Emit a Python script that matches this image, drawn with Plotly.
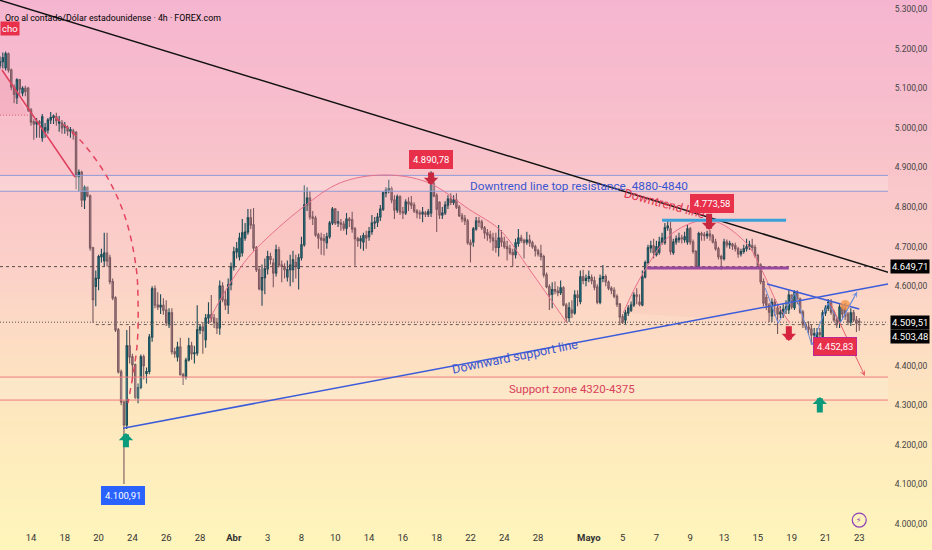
import plotly.graph_objects as go

# precios de las velas
opens = [
    5157, 5167, 5152, 5187, 5146, 5103, 5076, 5121, 5088, 5100,
    5100, 5045, 5015, 5010, 5015, 4975, 4990, 4995, 5020, 5026,
    5028, 5012, 5012, 5002, 5000, 4992, 4992, 4988, 4877, 4888,
    4818, 4850, 4828, 4697, 4600, 4620, 4675, 4665, 4684, 4672,
    4612, 4571, 4490, 4384, 4308, 4250, 4450, 4422, 4402, 4318,
    4345, 4422, 4380, 4385, 4472, 4594, 4553, 4548, 4552, 4540,
    4503, 4533, 4435, 4422, 4447, 4377, 4372, 4414, 4450, 4430,
    4432, 4490, 4497, 4465, 4520, 4528, 4520, 4508, 4495, 4601,
    4566, 4553, 4604, 4649, 4687, 4675, 4685, 4722, 4737, 4773,
    4755, 4697, 4642, 4591, 4622, 4644, 4675, 4659, 4634, 4692,
    4654, 4650, 4624, 4642, 4642, 4660, 4645, 4672, 4705, 4806,
    4823, 4775, 4772, 4730, 4722, 4720, 4710, 4725, 4760, 4795,
    4760, 4760, 4757, 4747, 4770, 4768, 4745, 4720, 4715, 4712,
    4728, 4725, 4738, 4760, 4762, 4775, 4795, 4836, 4843, 4847,
    4818, 4793, 4826, 4788, 4785, 4813, 4810, 4805, 4790, 4785,
    4783, 4785, 4782, 4785, 4860, 4830, 4812, 4780, 4785, 4805,
    4820, 4812, 4818, 4800, 4778, 4772, 4765, 4710, 4712, 4745,
    4765, 4762, 4748, 4735, 4730, 4722, 4715, 4698, 4722, 4712,
    4700, 4695, 4685, 4680, 4708, 4722, 4716, 4712, 4717, 4710,
    4700, 4690, 4682, 4675, 4629, 4599, 4580, 4592, 4588, 4584,
    4596, 4553, 4521, 4540, 4533, 4578, 4562, 4624, 4615, 4620,
    4622, 4614, 4598, 4560, 4620, 4625, 4610, 4595, 4590, 4575,
    4555, 4523, 4515, 4533, 4540, 4553, 4578, 4560, 4553, 4624,
    4660, 4697, 4702, 4680, 4686, 4712, 4710, 4748, 4745, 4685,
    4712, 4718, 4722, 4718, 4712, 4745, 4712, 4688, 4650, 4733,
    4730, 4728, 4732, 4727, 4712, 4695, 4675, 4670, 4712, 4705,
    4706, 4702, 4695, 4682, 4688, 4695, 4700, 4702, 4698, 4678,
    4654, 4612, 4572, 4553, 4525, 4560, 4545, 4530, 4530, 4542,
    4541, 4578, 4546, 4585, 4568, 4535, 4503, 4497, 4492, 4477,
    4473, 4483, 4473, 4533, 4545, 4558, 4535, 4515, 4510, 4548,
    4545, 4530, 4510, 4533, 4515, 4512,
]
closes = [
    5167, 5177, 5187, 5146, 5103, 5085, 5121, 5098, 5100, 5092,
    5045, 5015, 5010, 5015, 5012, 5028, 5000, 5020, 5026, 5030,
    5018, 5015, 5000, 5006, 4992, 4995, 4985, 4877, 4888, 4818,
    4850, 4828, 4697, 4566, 4620, 4675, 4680, 4684, 4664, 4612,
    4571, 4490, 4384, 4308, 4250, 4450, 4422, 4402, 4320, 4344,
    4422, 4400, 4385, 4472, 4594, 4553, 4548, 4552, 4540, 4508,
    4533, 4435, 4430, 4447, 4377, 4372, 4414, 4450, 4430, 4432,
    4490, 4497, 4488, 4520, 4528, 4520, 4508, 4495, 4601, 4566,
    4553, 4604, 4649, 4687, 4695, 4722, 4735, 4737, 4773, 4755,
    4697, 4642, 4594, 4622, 4644, 4675, 4668, 4634, 4692, 4654,
    4650, 4642, 4642, 4654, 4667, 4650, 4672, 4705, 4806, 4823,
    4775, 4772, 4730, 4722, 4717, 4715, 4725, 4760, 4795, 4760,
    4763, 4757, 4747, 4770, 4766, 4745, 4720, 4715, 4720, 4728,
    4722, 4738, 4760, 4762, 4775, 4795, 4836, 4843, 4847, 4818,
    4793, 4826, 4788, 4785, 4813, 4808, 4805, 4790, 4785, 4783,
    4787, 4782, 4788, 4880, 4828, 4795, 4780, 4785, 4805, 4820,
    4812, 4818, 4800, 4778, 4770, 4765, 4710, 4705, 4745, 4765,
    4762, 4748, 4735, 4730, 4722, 4715, 4698, 4722, 4712, 4700,
    4695, 4685, 4680, 4710, 4722, 4716, 4710, 4717, 4710, 4700,
    4690, 4682, 4675, 4629, 4599, 4578, 4592, 4588, 4584, 4596,
    4553, 4521, 4546, 4533, 4578, 4572, 4624, 4615, 4620, 4625,
    4614, 4598, 4560, 4620, 4625, 4612, 4595, 4590, 4575, 4555,
    4523, 4510, 4533, 4545, 4553, 4578, 4575, 4555, 4624, 4660,
    4697, 4702, 4685, 4700, 4712, 4722, 4748, 4752, 4688, 4712,
    4720, 4722, 4720, 4725, 4745, 4712, 4688, 4650, 4733, 4730,
    4728, 4732, 4727, 4712, 4695, 4675, 4670, 4712, 4705, 4708,
    4702, 4695, 4682, 4688, 4695, 4700, 4705, 4698, 4678, 4654,
    4612, 4558, 4553, 4535, 4560, 4552, 4530, 4535, 4542, 4548,
    4578, 4548, 4585, 4568, 4535, 4503, 4497, 4492, 4477, 4480,
    4483, 4478, 4533, 4545, 4560, 4535, 4515, 4503, 4548, 4530,
    4525, 4510, 4533, 4515, 4507, 4509.51,
]
highs = [
    5180, 5190, 5193, 5190, 5150, 5110, 5125, 5123, 5105, 5106,
    5104, 5050, 5022, 5025, 5020, 5035, 5012, 5025, 5040, 5034,
    5038, 5030, 5020, 5015, 5006, 5002, 4998, 4992, 4895, 4892,
    4855, 4852, 4832, 4700, 4640, 4680, 4695, 4735, 4735, 4680,
    4620, 4575, 4495, 4390, 4312, 4490, 4500, 4430, 4405, 4355,
    4428, 4428, 4395, 4480, 4600, 4602, 4585, 4580, 4570, 4565,
    4545, 4545, 4445, 4460, 4470, 4382, 4420, 4470, 4460, 4450,
    4552, 4505, 4510, 4530, 4560, 4578, 4530, 4520, 4615, 4610,
    4590, 4620, 4660, 4700, 4712, 4735, 4770, 4760, 4795, 4795,
    4798, 4702, 4648, 4655, 4670, 4690, 4685, 4670, 4705, 4700,
    4665, 4658, 4665, 4680, 4690, 4680, 4682, 4725, 4855, 4850,
    4840, 4790, 4778, 4735, 4735, 4732, 4735, 4765, 4800, 4798,
    4790, 4770, 4765, 4785, 4775, 4788, 4750, 4725, 4728, 4735,
    4740, 4750, 4780, 4775, 4785, 4805, 4840, 4850, 4869, 4852,
    4830, 4832, 4830, 4800, 4820, 4825, 4828, 4812, 4795, 4792,
    4800, 4790, 4795, 4890.78, 4880, 4835, 4815, 4800, 4815, 4830,
    4835, 4830, 4835, 4805, 4785, 4780, 4770, 4718, 4750, 4775,
    4775, 4768, 4752, 4745, 4740, 4735, 4735, 4755, 4742, 4725,
    4715, 4705, 4695, 4720, 4745, 4730, 4720, 4738, 4730, 4715,
    4705, 4695, 4705, 4680, 4635, 4605, 4610, 4612, 4600, 4615,
    4600, 4558, 4560, 4565, 4590, 4590, 4640, 4642, 4630, 4640,
    4630, 4625, 4605, 4630, 4654, 4630, 4615, 4600, 4598, 4580,
    4558, 4530, 4540, 4552, 4562, 4585, 4595, 4580, 4640, 4665,
    4705, 4715, 4720, 4715, 4725, 4735, 4760, 4765, 4763, 4720,
    4728, 4735, 4730, 4738, 4755, 4750, 4718, 4692, 4738, 4738,
    4737, 4740, 4742, 4732, 4720, 4700, 4680, 4720, 4718, 4715,
    4710, 4710, 4700, 4695, 4705, 4720, 4715, 4720, 4705, 4682,
    4658, 4620, 4580, 4558, 4570, 4568, 4552, 4550, 4555, 4565,
    4590, 4580, 4590, 4590, 4572, 4540, 4510, 4512, 4505, 4495,
    4495, 4495, 4540, 4552, 4568, 4568, 4540, 4520, 4555, 4555,
    4560, 4535, 4545, 4540, 4525, 4520,
]
lows = [
    5150, 5150, 5145, 5140, 5095, 5062, 5060, 5085, 5080, 5080,
    5040, 5005, 4970, 4975, 4975, 4965, 4975, 4985, 5010, 5010,
    5005, 4990, 4985, 4985, 4980, 4975, 4970, 4845, 4840, 4800,
    4795, 4825, 4690, 4508, 4550, 4590, 4660, 4650, 4650, 4605,
    4565, 4485, 4380, 4300, 4100.91, 4240, 4405, 4360, 4315, 4305,
    4340, 4365, 4355, 4378, 4460, 4545, 4540, 4530, 4528, 4500,
    4495, 4428, 4420, 4410, 4375, 4351, 4365, 4410, 4415, 4405,
    4425, 4480, 4430, 4445, 4505, 4510, 4495, 4480, 4478, 4560,
    4540, 4530, 4590, 4640, 4670, 4665, 4675, 4715, 4730, 4745,
    4690, 4636, 4590, 4551, 4580, 4630, 4655, 4598, 4625, 4648,
    4610, 4620, 4612, 4600, 4610, 4620, 4592, 4665, 4700, 4790,
    4768, 4755, 4725, 4695, 4680, 4678, 4695, 4720, 4755, 4755,
    4750, 4740, 4740, 4730, 4750, 4735, 4652, 4700, 4695, 4690,
    4695, 4715, 4730, 4745, 4750, 4765, 4790, 4825, 4835, 4810,
    4770, 4785, 4780, 4770, 4780, 4790, 4795, 4785, 4772, 4770,
    4762, 4775, 4775, 4775, 4825, 4737, 4770, 4770, 4780, 4795,
    4805, 4805, 4795, 4775, 4762, 4755, 4705, 4660, 4700, 4740,
    4750, 4742, 4720, 4715, 4710, 4690, 4685, 4675, 4700, 4695,
    4665, 4680, 4650, 4670, 4700, 4710, 4670, 4705, 4700, 4695,
    4675, 4675, 4665, 4622, 4595, 4540, 4545, 4580, 4575, 4578,
    4550, 4510, 4510, 4520, 4528, 4550, 4555, 4605, 4600, 4610,
    4605, 4590, 4555, 4555, 4610, 4600, 4590, 4580, 4570, 4548,
    4505, 4505, 4505, 4525, 4535, 4548, 4555, 4550, 4550, 4620,
    4655, 4685, 4670, 4675, 4680, 4705, 4705, 4740, 4680, 4680,
    4705, 4710, 4708, 4710, 4705, 4705, 4682, 4645, 4645, 4715,
    4715, 4720, 4715, 4708, 4690, 4668, 4642, 4665, 4698, 4695,
    4692, 4688, 4672, 4675, 4682, 4688, 4692, 4690, 4672, 4648,
    4605, 4550, 4540, 4510, 4510, 4525, 4480, 4520, 4520, 4530,
    4530, 4542, 4540, 4555, 4530, 4495, 4490, 4480, 4452.83, 4470,
    4465, 4470, 4468, 4525, 4538, 4528, 4510, 4495, 4495, 4520,
    4515, 4505, 4500, 4510, 4485, 4488,
]
candle_x = list(range(len(closes)))

x_tick_vals = [11, 23, 35, 47, 59, 71, 83, 95, 107, 119, 131, 143, 155,
               167, 179, 191, 209, 221, 233, 245, 257, 269, 281, 293, 305]
x_tick_text = ["14", "18", "20", "24", "26", "28", "<b>Abr</b>", "3", "8", "10", "14",
               "16", "18", "22", "24", "28", "<b>Mayo</b>", "5", "7", "9", "13",
               "15", "19", "21", "23"]
y_tick_vals = [4000, 4100, 4200, 4300, 4400, 4500, 4600, 4700, 4800, 4900,
               5000, 5100, 5200, 5300]

x_end = 315.2
y_range = [3985, 5322.7]

# dibujos sobre el grafico (indice de vela, precio)
black_x = [0, 316]
black_y = [5322, 4634]
support_x = [43.7, x_end]
support_y = [4242, 4606]
channel_x = [272.3, 305]
channel_y = [4606, 4543]
drop_x = [0.7, 26.6]
drop_y = [5146, 4876]
drop_arc_x = [19.5, 29.1, 38, 44.4, 48.3, 49, 48.6, 45.4]
drop_arc_y = [5027, 4964, 4876, 4775, 4649, 4558, 4447, 4305]
dome1_x = [74.2, 75.6, 85.2, 91.2, 107.6, 120.7, 136, 151.6, 166.8, 177.5, 188.1, 201.3]
dome1_y = [4507, 4533, 4646, 4697, 4800, 4861, 4881, 4863, 4793, 4742, 4641, 4507]
dome2_x = [221.2, 228.3, 238.9, 252, 264.5, 270.9, 275.8, 280.4]
dome2_y = [4533, 4634, 4735, 4767, 4712, 4634, 4558, 4507]
zigzag_x = [271.6, 276.2, 282.2, 288.2, 293.9, 298.2, 304.2]
zigzag_y = [4596, 4507, 4583, 4452, 4558, 4507, 4586]
left_zone_x = [0, 10, 0]
left_zone_y = [5165, 5032, 5032]

resistance_levels = [4880, 4840]
support_levels = [4371, 4313]
last_price = 4509.51
prev_close = 4503.48
mid_level = 4649.71

bg_y = [0, 0.27, 0.5, 0.76, 1]
bg_levels = [0, 0.27, 0.5, 0.76, 1]
bg_colors = ["#fff6bb", "#fde6bf", "#fcd2c8", "#f8c0cb", "#f5b5d0"]

FONT = "Roboto"
RED = "#e8304a"
BLUE_TEXT = "#3a55d0"


def add_line(fig, x, y, color, width=1, dash="solid", shape="linear"):
    fig.add_trace(go.Scatter(x=x, y=y, mode="lines", xaxis="x2", yaxis="y2", hoverinfo="skip",
                             line=dict(color=color, width=width, dash=dash, shape=shape)))


def add_zone(fig, x, y, color, line_color="rgba(0,0,0,0)", shape="linear"):
    fig.add_trace(go.Scatter(x=x, y=y, mode="lines", fill="toself", fillcolor=color, xaxis="x2",
                             yaxis="y2", hoverinfo="skip", line=dict(color=line_color, width=1, shape=shape)))


def add_badge(fig, text, x, y, color, border=None):
    fig.add_annotation(text=text, x=x, y=y, xref="x2", yref="y2", showarrow=False,
                       bgcolor=color, bordercolor=border or color, borderwidth=1, borderpad=3,
                       font=dict(family=FONT, size=9.5, color="white"))


def add_block_arrow(fig, x, tip, tail, color):
    fig.add_annotation(text="", x=x, y=tip, ax=x, ay=tail, xref="x2", yref="y2", axref="x2", ayref="y2",
                       showarrow=True, arrowhead=1, arrowsize=0.4, arrowwidth=6, arrowcolor=color)


def add_label(fig, text, x, y, color, angle=0, size=11.8):
    fig.add_annotation(text=text, x=x, y=y, xref="x2", yref="y2", showarrow=False, textangle=angle,
                       font=dict(family=FONT, size=size, color=color))


def add_price_tag(fig, text, y, shift=0):
    fig.add_annotation(text=text, x=890 / 932, y=y, xref="paper", yref="y2", xanchor="left", yshift=shift,
                       showarrow=False, bgcolor="#000000", borderpad=1,
                       font=dict(family=FONT, size=9.5, color="white"))


fig = go.Figure()

# fondo degradado, ocupa toda la imagen
fig.add_trace(go.Heatmap(x=[0, 1], y=bg_y, z=[[v, v] for v in bg_levels], zmin=0, zmax=1, zsmooth="best",
                         showscale=False, hoverinfo="skip",
                         colorscale=[[v, c] for v, c in zip(bg_levels, bg_colors)]))

# zonas
add_zone(fig, [0, x_end, x_end, 0], [resistance_levels[0], resistance_levels[0], resistance_levels[1],
                                     resistance_levels[1]], "rgba(255,255,255,0.22)")
add_zone(fig, [0, x_end, x_end, 0], [support_levels[0], support_levels[0], support_levels[1],
                                     support_levels[1]], "rgba(255,255,255,0.14)")
add_zone(fig, dome1_x, dome1_y, "rgba(235,80,90,0.05)", shape="spline")
add_zone(fig, dome2_x, dome2_y, "rgba(235,80,90,0.05)", shape="spline")
add_zone(fig, left_zone_x, left_zone_y, "rgba(225,80,110,0.1)")

# niveles horizontales
for level in resistance_levels:
    add_line(fig, [0, x_end], [level, level], "#8f9bd6")
for level in support_levels:
    add_line(fig, [0, x_end], [level, level], "#ee7b80")
add_line(fig, [0, x_end], [mid_level, mid_level], "#5a4a4a", dash="3px,3px")
add_line(fig, [0, x_end], [last_price, last_price], "#555555", dash="1px,2px")
add_line(fig, [34, x_end], [prev_close, prev_close], "#6a5e58", dash="3px,3px")
add_line(fig, [0, 10], [5032, 5032], "#e0607a", dash="1px,2px")

fig.add_trace(go.Candlestick(
    x=candle_x, open=opens, high=highs, low=lows, close=closes, xaxis="x2", yaxis="y2",
    hoverinfo="skip",
    increasing=dict(fillcolor="#149aa8", line=dict(color="#1c4a55", width=1.1)),
    decreasing=dict(fillcolor="#c48d99", line=dict(color="#7a5a60", width=1.1)),
))

# lineas de tendencia
add_line(fig, dome1_x, dome1_y, "#e8708a", shape="spline")
add_line(fig, dome2_x, dome2_y, "#e8708a", shape="spline")
add_line(fig, black_x, black_y, "#111111", width=1.5)
add_line(fig, support_x, support_y, "#3b5bd9", width=1.5)
add_line(fig, channel_x, channel_y, "#3b5bd9", width=1.5)
add_line(fig, drop_x, drop_y, "#e0405f", width=1.5)
add_line(fig, drop_arc_x, drop_arc_y, "#e4455f", width=1.5, dash="6px,5px", shape="spline")
add_line(fig, zigzag_x, zigzag_y, "#6a8de0")
add_line(fig, [235, 279], [4767, 4767], "#3ba0d8", width=3)
add_line(fig, [229.7, 280], [4646, 4646], "#9a4a9e", width=3)

fig.add_trace(go.Scatter(x=[300], y=[4553], mode="markers", xaxis="x2", yaxis="y2", hoverinfo="skip",
                         marker=dict(size=10, color="rgba(245,150,70,0.75)")))
fig.add_trace(go.Scatter(x=[305], y=[4010], mode="markers", xaxis="x2", yaxis="y2", hoverinfo="skip",
                         marker=dict(size=14, color="rgba(0,0,0,0)", line=dict(color="#8e3fb8", width=1.2))))

# flechas
add_block_arrow(fig, 44.7, 4230, 4190, "#0b9a7c")
add_block_arrow(fig, 291, 4321, 4278, "#0b9a7c")
add_block_arrow(fig, 280, 4462, 4503, "#d6243f")
add_block_arrow(fig, 153, 4856, 4891, "#c7283f")
add_block_arrow(fig, 251.7, 4742, 4787, "#c7283f")
fig.add_annotation(text="", x=307, y=4374, ax=294.6, ay=4560, xref="x2", yref="y2", axref="x2", ayref="y2",
                   showarrow=True, arrowhead=3, arrowsize=1, arrowwidth=1, arrowcolor="#e8606a")
fig.add_annotation(text="", x=304.2, y=4586, ax=298.2, ay=4507, xref="x2", yref="y2", axref="x2", ayref="y2",
                   showarrow=True, arrowhead=3, arrowsize=1, arrowwidth=1, arrowcolor="#6a8de0")

# textos
add_label(fig, "Downtrend line top resistance\u00a0\u00a04880-4840", 205.5, 4853, BLUE_TEXT)
add_label(fig, "Downtrend line", 236, 4810, "#e0354f", angle=15, size=12.5)
add_label(fig, "Downward support line", 182.8, 4422, BLUE_TEXT, angle=-11.5, size=12.5)
add_label(fig, "Support zone 4320-4375", 203, 4341, "#d9415a", size=11.5)

add_badge(fig, "4.890,78", 153, 4919, RED)
add_badge(fig, "4.773,58", 252.7, 4808, RED)
add_badge(fig, "4.452,83", 296.4, 4449, RED, border="#c0289a")
add_badge(fig, "4.100,91", 43.7, 4071, "#2962ff")
fig.add_annotation(text="cho", x=0, y=5252, xref="x2", yref="y2", xanchor="left", showarrow=False,
                   bgcolor=RED, borderpad=1, font=dict(family=FONT, size=9.5, color="white"))

add_price_tag(fig, "4.649,71", mid_level)
add_price_tag(fig, "4.509,51", last_price)
add_price_tag(fig, "4.503,48", prev_close, shift=-12)

fig.add_annotation(text="\u26a1", x=305, y=4010, xref="x2", yref="y2", showarrow=False,
                   font=dict(family="DejaVu Sans", size=8, color="#8e3fb8"))
fig.add_annotation(text="Oro al contado/Dólar estadounidense · 4h · FOREX.com", x=3 / 932, y=1 - 11 / 550,
                   xref="paper", yref="paper", xanchor="left", showarrow=False,
                   font=dict(family=FONT, size=8.8, color="#000000"))

fig.update_layout(
    width=932,
    height=550,
    margin=dict(l=0, r=0, t=0, b=0),
    showlegend=False,
    separators=",.",
    paper_bgcolor="#fdf0c0",
    plot_bgcolor="rgba(0,0,0,0)",
    font=dict(family=FONT, size=10, color="#444444"),
    xaxis=dict(domain=[0, 1], range=[0, 1], visible=False),
    yaxis=dict(domain=[0, 1], range=[0, 1], visible=False),
    xaxis2=dict(domain=[0, 888 / 932], range=[0, x_end], anchor="y2", tickvals=x_tick_vals, ticktext=x_tick_text,
                showgrid=False, zeroline=False, showline=False, ticks="", rangeslider=dict(visible=False),
                tickfont=dict(size=9.5, color="#333333")),
    yaxis2=dict(domain=[20 / 550, 1], range=y_range, anchor="x2", side="right", tickvals=y_tick_vals,
                tickformat=",.2f", showgrid=False, zeroline=False, showline=False, ticks="outside", ticklen=4,
                tickcolor="rgba(0,0,0,0)", tickfont=dict(size=8.5, color="#444444")),
)

# la pagina trae margen por defecto, se quita para que el grafico llene la ventana
fig.write_html("out.html", config={"displayModeBar": False},
               post_script="document.body.style.margin='0';")
